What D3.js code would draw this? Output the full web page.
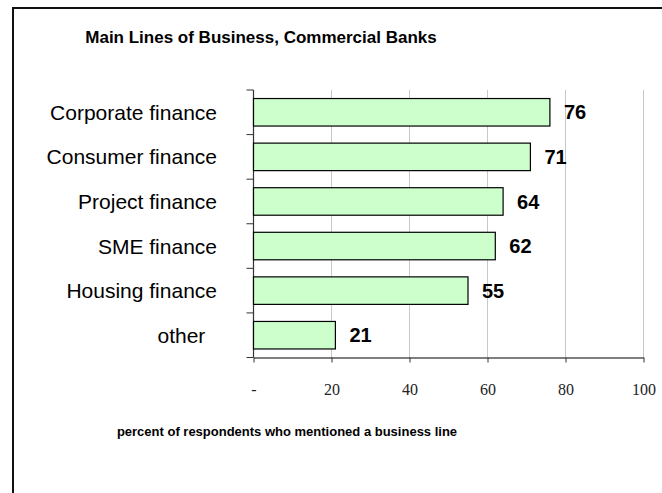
<!DOCTYPE html>
<html>
<head>
<meta charset="utf-8">
<script src="https://cdn.jsdelivr.net/npm/d3@7"></script>
<style>
  html, body { margin: 0; padding: 0; background: #fff; }
  svg { display: block; }
</style>
</head>
<body>
<svg id="chart" width="662" height="493"></svg>
<script>
// Share of respondents naming each line of business
const categories = ["Corporate finance", "Consumer finance", "Project finance", "SME finance", "Housing finance", "other\u00a0\u00a0"];
const values = [76, 71, 64, 62, 55, 21];
const xTicks = [0, 20, 40, 60, 80, 100];
const xTickLabels = ["-", "20", "40", "60", "80", "100"];

const title = "Main Lines of Business, Commercial Banks";
const xTitle = "percent of respondents who mentioned a business line";

const sans = "'Liberation Sans', Arial, Helvetica, sans-serif";
const serif = "'Liberation Serif', 'Times New Roman', Times, serif";

const svg = d3.select("#chart");

// Outer frame
svg.append("rect")
  .attr("x", 13).attr("y", 8)
  .attr("width", 700).attr("height", 520)
  .attr("fill", "none")
  .attr("stroke", "#111")
  .attr("stroke-width", 2);

const x = d3.scaleLinear().domain([0, 100]).range([253.5, 643.5]);
const y = d3.scaleBand().domain(categories).range([90, 357.5])
  .paddingInner(0.383).paddingOuter(0.1915);

const [yTop, yBottom] = y.range();

// Vertical gridlines
svg.append("g")
  .selectAll("line")
  .data(xTicks.filter(d => d > 0))
  .join("line")
  .attr("x1", d => x(d)).attr("x2", d => x(d))
  .attr("y1", yTop).attr("y2", yBottom)
  .attr("stroke", "#c8c8c8")
  .attr("stroke-width", 1);

// Bottom axis
const xAxis = d3.axisBottom(x)
  .tickValues(xTicks)
  .tickFormat((d, i) => xTickLabels[i])
  .tickSize(5)
  .tickPadding(21)
  .tickSizeOuter(0);

const gx = svg.append("g")
  .attr("transform", `translate(0,${yBottom})`)
  .call(xAxis);
gx.select(".domain").attr("stroke", "#555").attr("stroke-width", 1.3);
gx.selectAll(".tick line").attr("stroke", "#333");
gx.selectAll(".tick text")
  .attr("font-family", serif)
  .attr("font-size", 16)
  .attr("fill", "#222");

// Left axis line with ticks at category boundaries
const gy = svg.append("g");
gy.append("line")
  .attr("x1", x(0)).attr("x2", x(0))
  .attr("y1", yTop).attr("y2", yBottom)
  .attr("stroke", "#333").attr("stroke-width", 1.2);
gy.selectAll("line.tk")
  .data(d3.range(categories.length + 1))
  .join("line")
  .attr("class", "tk")
  .attr("x1", x(0) - 7).attr("x2", x(0))
  .attr("y1", i => yTop + i * y.step())
  .attr("y2", i => yTop + i * y.step())
  .attr("stroke", "#333").attr("stroke-width", 1);

// Bars
const data = categories.map((c, i) => ({ c, v: values[i] }));
svg.append("g")
  .selectAll("rect")
  .data(data)
  .join("rect")
  .attr("x", x(0))
  .attr("y", d => y(d.c))
  .attr("width", d => x(d.v) - x(0))
  .attr("height", y.bandwidth())
  .attr("fill", "#ccffcc")
  .attr("stroke", "#000")
  .attr("stroke-width", 1.2);

// Value labels
svg.append("g")
  .selectAll("text")
  .data(data)
  .join("text")
  .attr("x", d => x(d.v) + 14)
  .attr("y", d => y(d.c) + y.bandwidth() / 2)
  .attr("dy", "0.36em")
  .attr("font-family", sans)
  .attr("font-size", 20)
  .attr("font-weight", "bold")
  .attr("fill", "#000")
  .text(d => d.v);

// Category labels
svg.append("g")
  .selectAll("text")
  .data(categories)
  .join("text")
  .attr("x", 217)
  .attr("y", d => y(d) + y.bandwidth() / 2)
  .attr("dy", "0.36em")
  .attr("text-anchor", "end")
  .attr("font-family", sans)
  .attr("font-size", 21)
  .attr("fill", "#000")
  .style("white-space", "pre")
  .text(d => d);

// Title
svg.append("text")
  .attr("x", 261).attr("y", 43)
  .attr("text-anchor", "middle")
  .attr("font-family", sans)
  .attr("font-size", 17)
  .attr("font-weight", "bold")
  .text(title);

// Axis title
svg.append("text")
  .attr("x", 287).attr("y", 436)
  .attr("text-anchor", "middle")
  .attr("font-family", sans)
  .attr("font-size", 13)
  .attr("font-weight", "bold")
  .text(xTitle);
</script>
</body>
</html>
